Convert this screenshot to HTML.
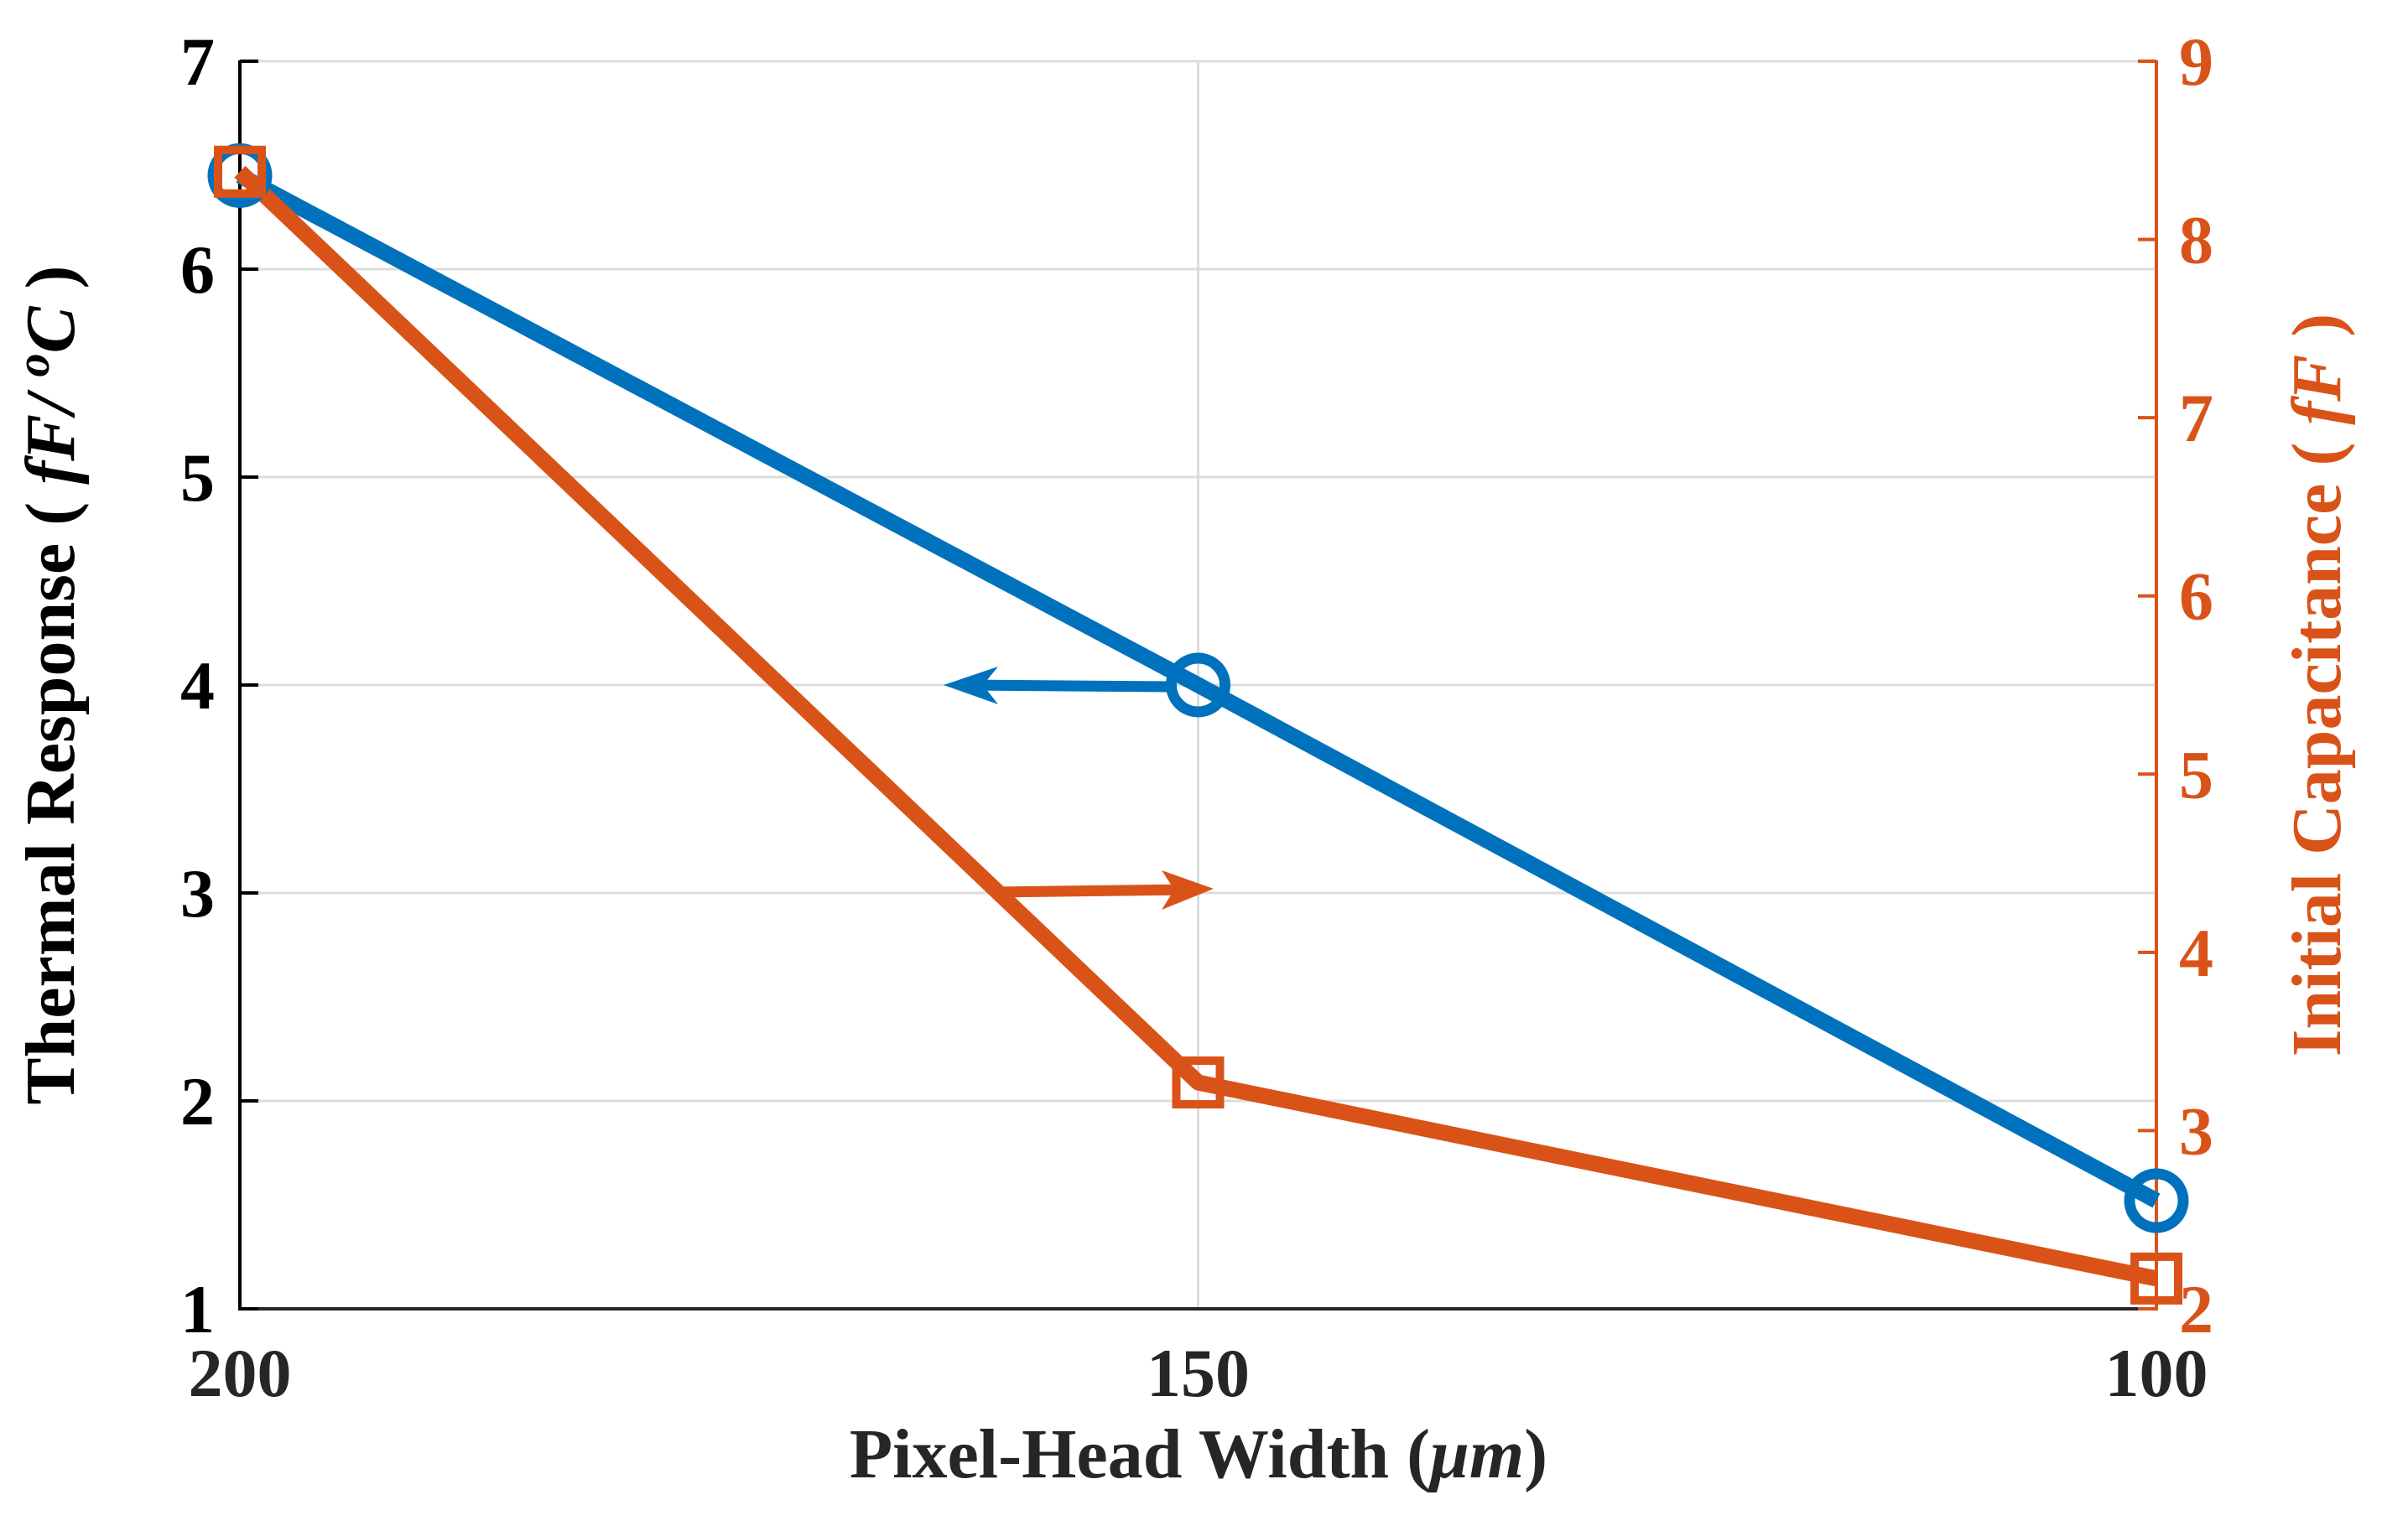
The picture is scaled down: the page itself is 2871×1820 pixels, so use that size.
<!DOCTYPE html>
<html><head><meta charset="utf-8"><style>
html,body{margin:0;padding:0;background:#fff;}
svg{display:block;}
text{font-family:"Liberation Serif",serif;font-weight:bold;}
</style></head><body>
<svg id="chart" width="2871" height="1820" viewBox="0 0 2871 1820" xmlns="http://www.w3.org/2000/svg">
<g id="grid"></g>
<g id="axes"></g>
<g id="series"></g>
<g id="annot"></g>
<text x="1429" y="1762" font-size="84" text-anchor="middle" fill="#262626">Pixel-Head Width (<tspan font-style="italic">μm</tspan>)</text>
<text transform="translate(88,817) rotate(-90)" font-size="84" text-anchor="middle" fill="#000">Thermal Response ( <tspan font-style="italic">fF/ </tspan><tspan font-style="italic" font-size="56" dy="-30">o</tspan><tspan font-style="italic" dy="30">C</tspan> )</text>
<text transform="translate(2790,817) rotate(-90)" font-size="84" text-anchor="middle" fill="#D95319">Initial Capacitance ( <tspan font-style="italic">fF</tspan> )</text>
</svg>
<script>
const xCategories = [200, 150, 100];
const thermalResponse = [6.45, 4.0, 1.52];
const initialCapacitance = [8.38, 3.27, 2.17];
const leftTicks = [1, 2, 3, 4, 5, 6, 7];
const rightTicks = [2, 3, 4, 5, 6, 7, 8, 9];
const xTicks = [200, 150, 100];

const NS = "http://www.w3.org/2000/svg";
const X0 = 286, X1 = 2571, Y0 = 1561, Y1 = 73;
const xs = v => X0 + (200 - v) / 100 * (X1 - X0);
const yl = v => Y0 - (v - 1) / 6 * (Y0 - Y1);
const yr = v => Y0 - (v - 2) / 7 * (Y0 - Y1);
const BLUE = "#0072BD", ORANGE = "#D95319";
function mk(parent, tag, attrs) {
  const e = document.createElementNS(NS, tag);
  for (const k in attrs) e.setAttribute(k, attrs[k]);
  document.getElementById(parent).appendChild(e);
  return e;
}
leftTicks.forEach(t => {
  const l = mk("grid", "line", {x1: X0, x2: X1, y1: yl(t), y2: yl(t), stroke: "#dcdcdc", "stroke-width": 3});
  
  
});
xTicks.forEach(t => {
  const l = mk("grid", "line", {x1: xs(t), x2: xs(t), y1: Y1, y2: Y0, stroke: "#dcdcdc", "stroke-width": 3});
  
  
});
let a = mk("axes", "line", {x1: X0, x2: X0, y1: Y1 - 1, y2: Y0 + 2, stroke: "#000", "stroke-width": 4});


a = mk("axes", "line", {x1: X0, x2: X1, y1: Y0, y2: Y0, stroke: "#262626", "stroke-width": 4});


a = mk("axes", "line", {x1: X1, x2: X1, y1: Y1 - 1, y2: Y0 + 2, stroke: ORANGE, "stroke-width": 4});


leftTicks.forEach(t => {
  const k = mk("axes", "line", {x1: X0, x2: X0 + 22, y1: yl(t), y2: yl(t), stroke: "#000", "stroke-width": 4});
  
  
  const tx = mk("axes", "text", {x: 256, y: yl(t) + 28, "font-size": 82, "text-anchor": "end", fill: "#000"});
  tx.textContent = t;
  
  
});
rightTicks.forEach(t => {
  const k = mk("axes", "line", {x1: X1 - 22, x2: X1, y1: yr(t), y2: yr(t), stroke: ORANGE, "stroke-width": 4});
  
  
  const tx = mk("axes", "text", {x: 2598, y: yr(t) + 28, "font-size": 82, "text-anchor": "start", fill: ORANGE});
  tx.textContent = t;
  
  
});
xTicks.forEach(t => {
  const tx = mk("axes", "text", {x: xs(t), y: 1665, "font-size": 82, "text-anchor": "middle", fill: "#262626"});
  tx.textContent = t;
  
  
});
const bp = xCategories.map((c, i) => xs(c) + "," + yl(thermalResponse[i])).join(" ");
let s = mk("series", "polyline", {points: bp, fill: "none", stroke: BLUE, "stroke-width": 19, "stroke-linejoin": "round"});


const op = xCategories.map((c, i) => xs(c) + "," + yr(initialCapacitance[i])).join(" ");
s = mk("series", "polyline", {points: op, fill: "none", stroke: ORANGE, "stroke-width": 19, "stroke-linejoin": "round"});


xCategories.forEach((c, i) => {
  const m = mk("series", "circle", {cx: xs(c), cy: yl(thermalResponse[i]), r: 32, fill: "none", stroke: BLUE, "stroke-width": 13});
  
  
});
xCategories.forEach((c, i) => {
  const m = mk("series", "rect", {x: xs(c) - 26, y: yr(initialCapacitance[i]) - 26, width: 52, height: 52, fill: "none", stroke: ORANGE, "stroke-width": 10});
  
  
});
let ar = mk("annot", "line", {x1: 1400, y1: 819, x2: 1150, y2: 817, stroke: BLUE, "stroke-width": 13});


ar = mk("annot", "polygon", {points: "1125,817 1190,795 1172,817 1190,840", fill: BLUE});


ar = mk("annot", "line", {x1: 1186, y1: 1064, x2: 1420, y2: 1061, stroke: ORANGE, "stroke-width": 13});


ar = mk("annot", "polygon", {points: "1447,1060 1385,1038 1400,1061 1385,1085", fill: ORANGE});


</script>
</body></html>
